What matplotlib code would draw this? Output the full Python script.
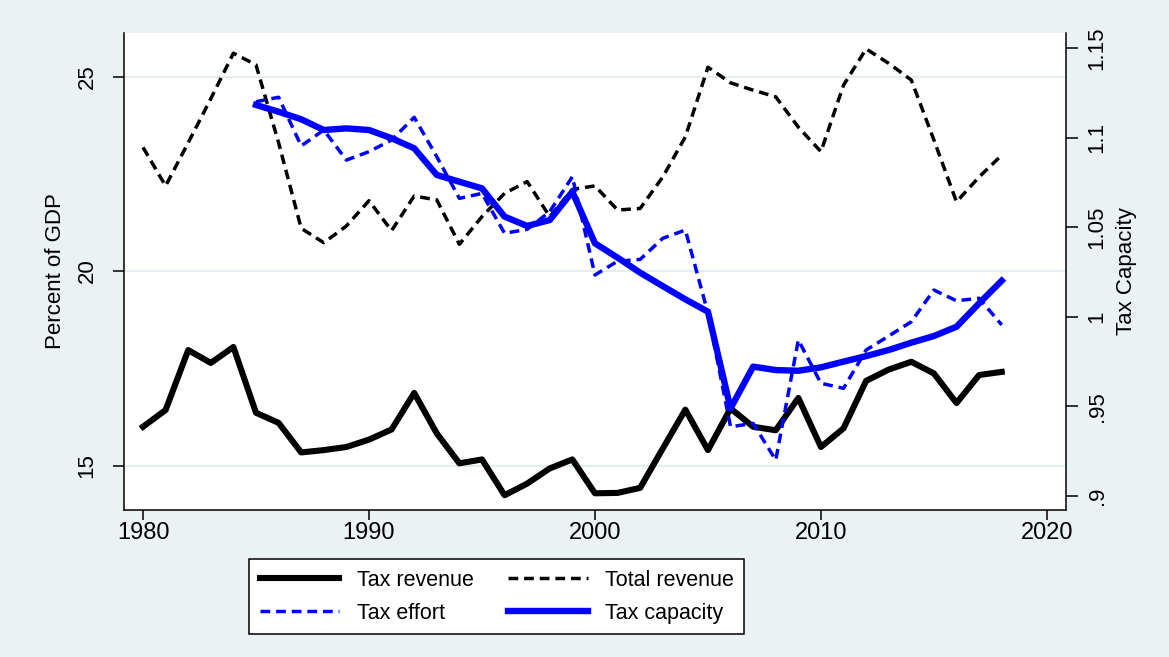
import matplotlib
matplotlib.use("Agg")
import matplotlib.pyplot as plt
from matplotlib.ticker import FixedLocator, FixedFormatter

plt.rcParams['font.family'] = ['Liberation Sans', 'DejaVu Sans']

# Years
years_all = list(range(1980, 2019))
years_index = list(range(1985, 2019))

# Revenue series, percent of GDP (left axis)
tax_revenue = [16.00, 16.43, 17.97, 17.64, 18.05, 16.36, 16.10, 15.34, 15.40, 15.48,
               15.67, 15.93, 16.87, 15.83, 15.06, 15.16, 14.24, 14.54, 14.93, 15.16,
               14.29, 14.30, 14.43, 15.44, 16.44, 15.40, 16.47, 16.00, 15.91, 16.74,
               15.48, 15.96, 17.18, 17.47, 17.67, 17.37, 16.61, 17.33, 17.41]
total_revenue = [23.18, 22.19, 23.30, 24.43, 25.60, 25.30, 23.30, 21.10, 20.73, 21.16,
                 21.81, 21.04, 21.93, 21.83, 20.69, 21.40, 22.00, 22.30, 21.40, 22.10,
                 22.19, 21.57, 21.61, 22.42, 23.45, 25.24, 24.84, 24.65, 24.48, 23.70,
                 23.07, 24.78, 25.71, 25.34, 24.91, 23.37, 21.78, 22.42, 22.98]

# Index series (right axis)
tax_effort = [1.1201, 1.1226, 1.0954, 1.1043, 1.0875,
              1.0922, 1.0987, 1.1114, 1.0894, 1.0661, 1.0689, 1.0466, 1.0488, 1.0587, 1.0782,
              1.0233, 1.0310, 1.0320, 1.0438, 1.0484, 1.0020, 0.9385, 0.9404, 0.9199, 0.9870,
              0.9628, 0.9600, 0.9814, 0.9892, 0.9972, 1.0149, 1.0089, 1.0103, 0.9954]
tax_capacity = [1.1183, 1.1145, 1.1103, 1.1043, 1.1052,
                1.1043, 1.0997, 1.0941, 1.0792, 1.0754, 1.0717, 1.0559, 1.0507, 1.0540, 1.0698,
                1.0410, 1.0330, 1.0246, 1.0171, 1.0097, 1.0028, 0.9488, 0.9721, 0.9702, 0.9698,
                0.9717, 0.9749, 0.9780, 0.9814, 0.9855, 0.9892, 0.9944, 1.0075, 1.0201]

x_ticks = [1980, 1990, 2000, 2010, 2020]
left_ticks = [15, 20, 25]
right_ticks = [0.90, 0.95, 1.00, 1.05, 1.10, 1.15]
right_tick_labels = ['.9', '.95', '1', '1.05', '1.1', '1.15']

BG = '#EAF2F3'
GRID = '#E4EDF0'

fig = plt.figure(figsize=(11.69, 6.57), dpi=100, facecolor=BG)
ax = fig.add_axes([0.1061, 0.2237, 0.8055, 0.7261])
ax.set_facecolor('white')
ax2 = ax.twinx()

dash = (0, (2.8, 1.7))
l_rev, = ax.plot(years_all, tax_revenue, color='black', lw=4.4, label='Tax revenue', zorder=3)
l_tot, = ax.plot(years_all, total_revenue, color='black', lw=2.5, linestyle=dash,
                 label='Total revenue', zorder=2)
l_eff, = ax2.plot(years_index, tax_effort, color='#0000FF', lw=2.5, linestyle=dash,
                  label='Tax effort', zorder=2)
l_cap, = ax2.plot(years_index, tax_capacity, color='#0000FF', lw=4.6,
                  label='Tax capacity', zorder=3)

ax.set_xlim(1979.16, 2020.83)
ax.set_ylim(13.86, 26.12)
ax2.set_ylim(0.892, 1.1585)

ax.xaxis.set_major_locator(FixedLocator(x_ticks))
ax.yaxis.set_major_locator(FixedLocator(left_ticks))
ax2.yaxis.set_major_locator(FixedLocator(right_ticks))
ax2.yaxis.set_major_formatter(FixedFormatter(right_tick_labels))

ax.grid(axis='y', color=GRID, lw=1.6, zorder=0)
ax.set_axisbelow(True)

for a in (ax, ax2):
    a.spines['top'].set_visible(False)
ax.spines['right'].set_visible(False)
ax2.spines['left'].set_visible(False)
ax2.spines['bottom'].set_visible(False)
for s in (ax.spines['left'], ax.spines['bottom'], ax2.spines['right']):
    s.set_linewidth(1.1)
    s.set_color('black')

ax.tick_params(axis='x', length=7.2, width=1.1, pad=1.5, labelsize=17)
ax.tick_params(axis='y', length=8, width=1.1, pad=11, labelsize=16, labelrotation=90)
ax2.tick_params(axis='y', length=8.6, width=1.1, pad=6.5, labelsize=16, labelrotation=90)
for lbl in ax.get_yticklabels() + ax2.get_yticklabels():
    lbl.set_va('center')

ax.set_ylabel('Percent of GDP', fontsize=16, labelpad=8)
ax2.set_ylabel('Tax Capacity', fontsize=16, labelpad=6, rotation=90)

leg = fig.legend([l_rev, l_eff, l_tot, l_cap],
                 ['Tax revenue', 'Tax effort', 'Total revenue', 'Tax capacity'],
                 ncol=2, loc='upper left', bbox_to_anchor=(249 / 1169, 1 - 559 / 657),
                 borderaxespad=0, fontsize=15.5, handlelength=3.7, handletextpad=0.8,
                 columnspacing=1.6, labelspacing=0.55, borderpad=0.5,
                 frameon=True, fancybox=False, framealpha=1, edgecolor='black',
                 facecolor='white')
leg.get_frame().set_linewidth(1.1)

fig.savefig('out.png', dpi=100, facecolor=BG)
